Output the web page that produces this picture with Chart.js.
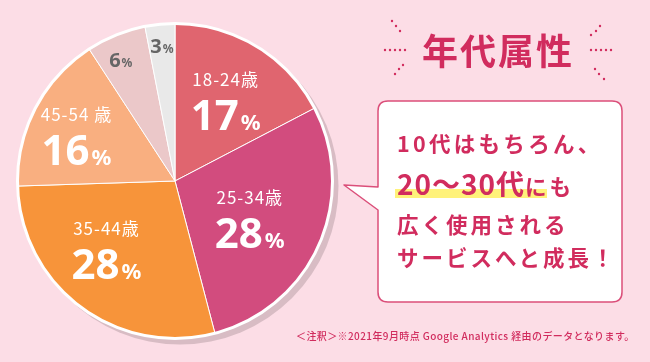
<!DOCTYPE html>
<html><head><meta charset="utf-8">
<script src="https://cdn.jsdelivr.net/npm/chart.js@4"></script>
<style>
html,body{margin:0;padding:0;}
body{width:650px;height:362px;background:#FCDDE6;position:relative;overflow:hidden;font-family:"Noto Sans CJK JP","Noto Sans",sans-serif;}
#wrap{position:absolute;left:0;top:0;width:650px;height:362px;}
.t{position:absolute;white-space:nowrap;color:#D12C5E;font-weight:700;line-height:1;}
#title{left:422px;top:31px;font-size:36px;letter-spacing:2px;}
.bl{left:397px;font-size:21.5px;letter-spacing:3px;}
#l1{top:132px;letter-spacing:3.3px;}
#l2{top:169px;}
#l3{top:213px;}
#l4{top:246px;}
#l2 .big{font-size:28px;letter-spacing:1px;}
#note{left:296px;top:331px;font-size:10px;font-weight:500;letter-spacing:0.4px;}
svg{position:absolute;left:0;top:0;}
</style></head><body>
<div id="wrap"><canvas id="c" width="650" height="362"></canvas></div>
<svg width="650" height="362">
  <g fill="#D12C5E">
    <circle cx="392" cy="21" r="1.2"/><circle cx="396" cy="26" r="1.2"/><circle cx="400" cy="31" r="1.2"/>
    <circle cx="385" cy="50" r="1.2"/><circle cx="390" cy="50" r="1.2"/><circle cx="395" cy="50" r="1.2"/><circle cx="400" cy="50" r="1.2"/><circle cx="405" cy="50" r="1.2"/>
    <circle cx="395" cy="74" r="1.2"/><circle cx="399" cy="69" r="1.2"/><circle cx="403" cy="65" r="1.2"/>
    <circle cx="600" cy="26" r="1.2"/><circle cx="596" cy="31" r="1.2"/><circle cx="591" cy="35" r="1.2"/>
    <circle cx="591" cy="50" r="1.2"/><circle cx="596" cy="50" r="1.2"/><circle cx="601" cy="50" r="1.2"/><circle cx="606" cy="50" r="1.2"/><circle cx="611" cy="50" r="1.2"/>
    <circle cx="595" cy="69" r="1.2"/><circle cx="599" cy="74" r="1.2"/><circle cx="604" cy="79" r="1.2"/>
  </g>
  <path d="M388,101 H612 Q622,101 622,111 V292 Q622,302 612,302 H388 Q378,302 378,292 V210 L344,185 L378,187 V111 Q378,101 388,101 Z" fill="#fff" stroke="#DB4F7A" stroke-width="1.5" stroke-linejoin="round"/>
  <rect x="395" y="189" width="152" height="9" fill="#FFF27A"/>
</svg>
<div class="t" id="title">年代属性</div>
<div class="t bl" id="l1">10代はもちろん、</div>
<div class="t bl" id="l2"><span class="big">20〜30代</span>にも</div>
<div class="t bl" id="l3">広く使用される</div>
<div class="t bl" id="l4">サービスへと成長！</div>
<div class="t" id="note">＜注釈＞※2021年9月時点 Google Analytics 経由のデータとなります。</div>
<script>
const categories = ["18-24歳", "25-34歳", "35-44歳", "45-54 歳", "", ""];
const shares = [17, 28, 28, 16, 6, 3];
const percentLabels = ["17", "28", "28", "16", "6", "3"];

const colors = ["#E0656F", "#D24C7E", "#F7943A", "#F9AF80", "#EBC8C9", "#E9E9E9"];
const labelRadius = [0.62, 0.54, 0.6, 0.67, 0.85, 0.87];
const labelShift = [[0, 0], [-3, 0], [-12, -11], [-5, 0], [-4, 3], [0, 1]];

const shadowPlugin = {
  id: 'shadow',
  beforeDatasetsDraw(chart) {
    const arc = chart.getDatasetMeta(0).data[0];
    if (!arc) return;
    const ctx = chart.ctx;
    ctx.save();
    ctx.fillStyle = "#D8BCC4";
    ctx.beginPath();
    ctx.arc(arc.x + 5, arc.y + 5, arc.outerRadius + 1, 0, Math.PI * 2);
    ctx.fill();
    ctx.restore();
  },
  afterDatasetsDraw(chart) {
    const meta = chart.getDatasetMeta(0);
    const ctx = chart.ctx;
    const a0 = meta.data[0];
    ctx.save();
    ctx.strokeStyle = "#ffffff";
    ctx.lineWidth = 3;
    ctx.beginPath();
    ctx.arc(a0.x, a0.y, a0.outerRadius, 0, Math.PI * 2);
    ctx.stroke();
    meta.data.forEach((arc, i) => {
      const mid = (arc.startAngle + arc.endAngle) / 2;
      const r = arc.outerRadius * labelRadius[i];
      const cx = arc.x + Math.cos(mid) * r + labelShift[i][0];
      const cy = arc.y + Math.sin(mid) * r + labelShift[i][1];
      ctx.textBaseline = "alphabetic";
      if (categories[i]) {
        ctx.fillStyle = "#ffffff";
        ctx.letterSpacing = "1px";
        ctx.font = "400 17px 'Noto Sans CJK JP', sans-serif";
        ctx.textAlign = "center";
        ctx.fillText(categories[i], cx, cy - 11);
        ctx.letterSpacing = "0px";
        ctx.font = "700 42px 'Noto Sans', sans-serif";
        const w1 = ctx.measureText(percentLabels[i]).width;
        ctx.font = "700 22px 'Noto Sans', sans-serif";
        const w2 = ctx.measureText("%").width;
        const x0 = cx - (w1 + w2 + 2) / 2;
        ctx.textAlign = "left";
        ctx.font = "700 42px 'Noto Sans', sans-serif";
        ctx.fillText(percentLabels[i], x0, cy + 33);
        ctx.font = "700 22px 'Noto Sans', sans-serif";
        ctx.fillText("%", x0 + w1 + 2, cy + 33);
      } else {
        ctx.fillStyle = "#666666";
        ctx.font = "700 20px 'Noto Sans', sans-serif";
        const w1 = ctx.measureText(percentLabels[i]).width;
        ctx.font = "700 12px 'Noto Sans', sans-serif";
        const w2 = ctx.measureText("%").width;
        const x0 = cx - (w1 + w2 + 1) / 2;
        ctx.textAlign = "left";
        ctx.font = "700 20px 'Noto Sans', sans-serif";
        ctx.fillText(percentLabels[i], x0, cy + 7);
        ctx.font = "700 12px 'Noto Sans', sans-serif";
        ctx.fillText("%", x0 + w1 + 1, cy + 7);
      }
    });
    ctx.restore();
  }
};

new Chart(document.getElementById('c'), {
  type: 'pie',
  data: {
    labels: categories,
    datasets: [{
      data: shares,
      backgroundColor: colors,
      borderColor: "#ffffff",
      borderWidth: 1
    }]
  },
  options: {
    responsive: false,
    animation: false,
    layout: { padding: { left: 17, top: 23, right: 317, bottom: 23 } },
    plugins: { legend: { display: false }, tooltip: { enabled: false } }
  },
  plugins: [shadowPlugin]
});
</script>
</body></html>
